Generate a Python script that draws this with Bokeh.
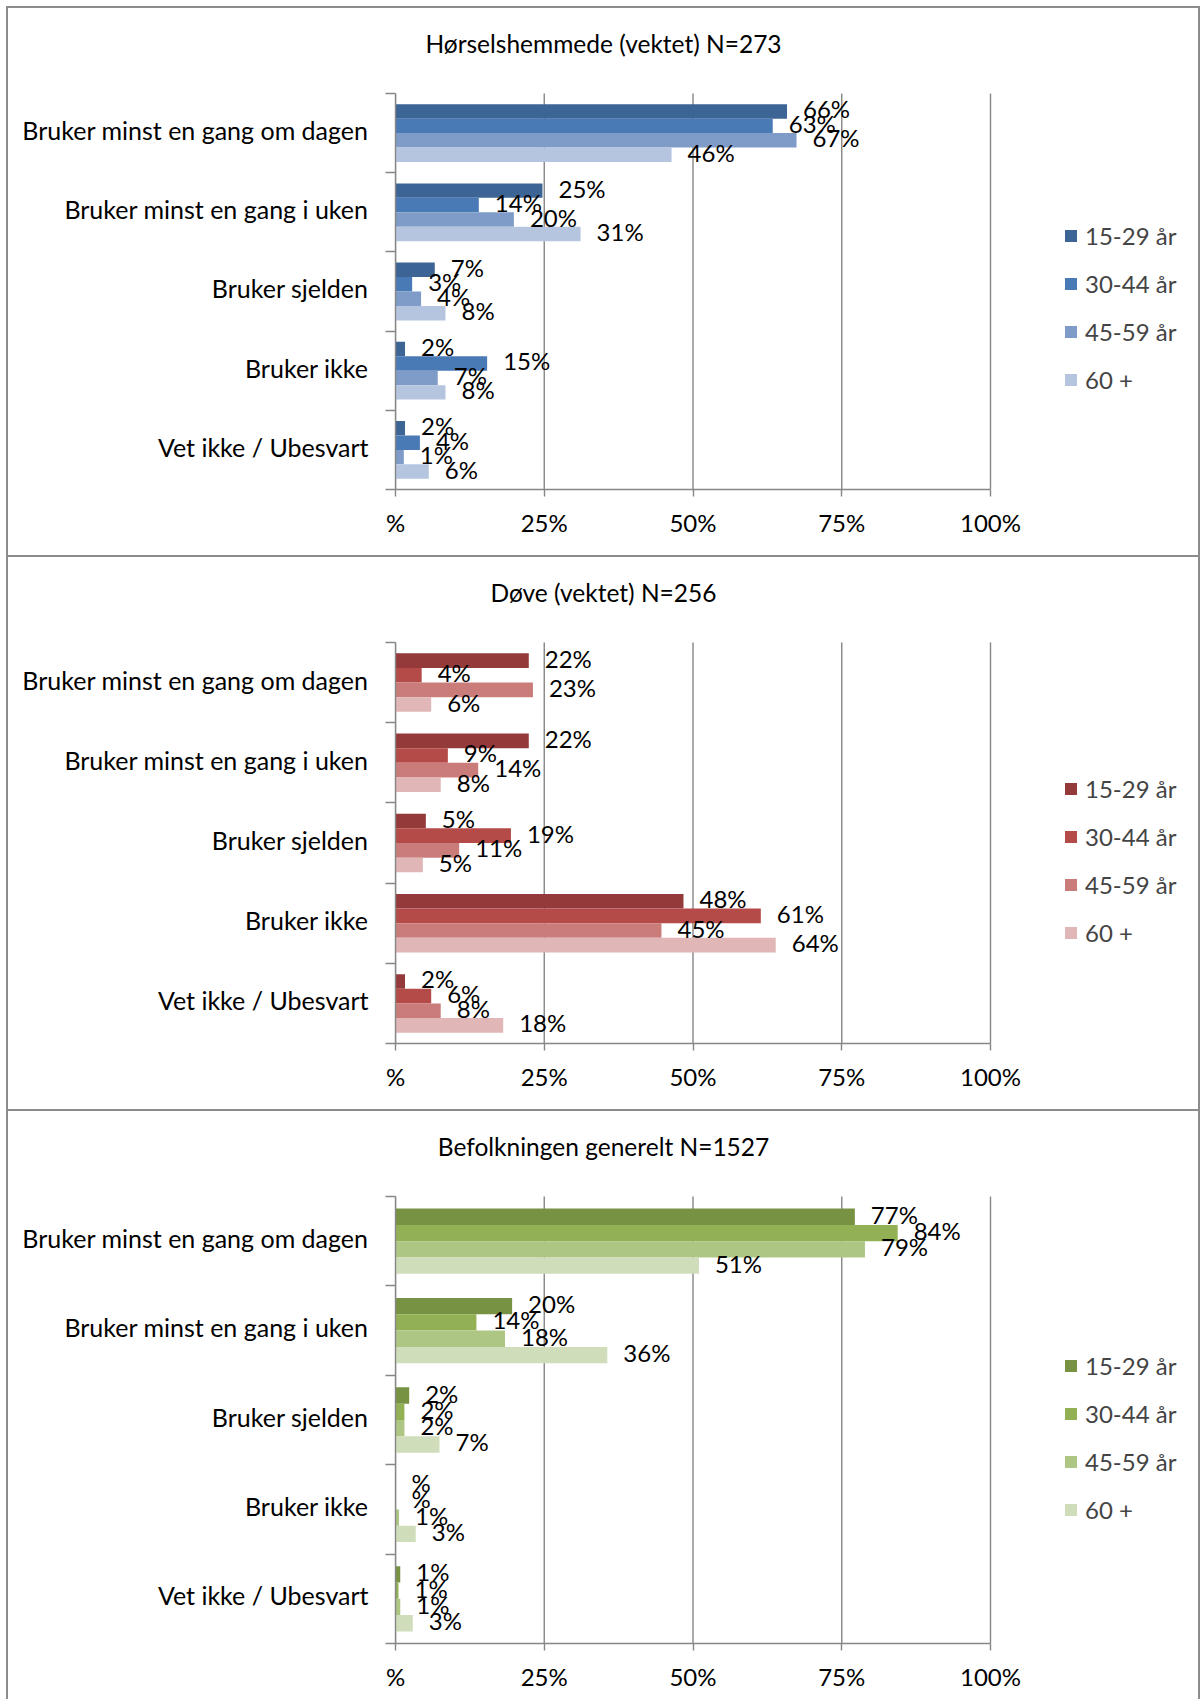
from bokeh.plotting import figure
from bokeh.models import ColumnDataSource, Range1d, FixedTicker, Legend, LegendItem, Div, Label
from bokeh.layouts import column, row
from bokeh.embed import file_html
from bokeh.resources import INLINE
from bokeh.core.properties import value
from bokeh.transform import dodge

# ---------------- data ----------------
categories = ["Bruker minst en gang om dagen", "Bruker minst en gang i uken",
              "Bruker sjelden", "Bruker ikke", "Vet ikke / Ubesvart"]
age_groups = ["15-29 år", "30-44 år", "45-59 år", "60 +"]
x_ticks = [0, 25, 50, 75, 100]
x_tick_labels = ["%", "25%", "50%", "75%", "100%"]

titles = ["Hørselshemmede (vektet) N=273", "Døve (vektet) N=256", "Befolkningen generelt N=1527"]

# Hørselshemmede (percent, per category)
horsel_15_29 = [65.8, 24.7, 6.6, 1.6, 1.6]
horsel_30_44 = [63.4, 14.0, 2.8, 15.4, 4.1]
horsel_45_59 = [67.4, 19.9, 4.3, 7.1, 1.4]
horsel_60 = [46.4, 31.1, 8.4, 8.4, 5.6]

# Døve
dove_15_29 = [22.4, 22.4, 5.1, 48.4, 1.6]
dove_30_44 = [4.4, 8.8, 19.4, 61.4, 6.0]
dove_45_59 = [23.1, 13.9, 10.7, 44.7, 7.6]
dove_60 = [6.0, 7.6, 4.6, 63.9, 18.1]

# Befolkningen generelt
bef_15_29 = [77.2, 19.6, 2.3, 0.0, 0.8]
bef_30_44 = [84.4, 13.6, 1.5, 0.0, 0.5]
bef_45_59 = [78.9, 18.4, 1.5, 0.6, 0.8]
bef_60 = [51.0, 35.6, 7.4, 3.4, 2.9]

blue = ["#3C6495", "#4A7AB5", "#7F9CC9", "#B5C5E0"]
red = ["#953A3A", "#B44B48", "#CA7C7B", "#E0B6B6"]
green = ["#789243", "#92B154", "#ADC683", "#CFDDBB"]

FONT = "Lato"
GREY = "#868686"
BORDER = "#8c8c8c"
FS = "24px"
CAT_FS = "25px"
TITLE_FS = "24.5px"
INNER_W = 1190
LEFT = 387          # space for category labels (px)
SCALE_W = 595       # pixel width of 0..100 %
TOP = 85            # px from figure top to first category
LABEL_NUDGE = 0.038  # small upward nudge of category labels (category units)


def pct_label(v):
    n = int(v + 0.5)
    return "%" if n == 0 else f"{n}%"


def make_panel(title, series, colors, height, bottom, legend_y):
    frame_w = INNER_W - LEFT
    frame_h = height - bottom
    n = len(categories)
    x_end = 100 * frame_w / SCALE_W
    y_top = -n * TOP / (frame_h - TOP)
    p = figure(width=INNER_W, height=height, x_range=Range1d(0, x_end), y_range=Range1d(n, y_top),
               output_backend="svg", toolbar_location=None,
               min_border_left=LEFT, min_border_right=0,
               min_border_top=0, min_border_bottom=bottom)
    p.outline_line_color = None
    p.background_fill_color = "white"
    p.border_fill_color = "white"
    p.xgrid.grid_line_color = None
    p.ygrid.grid_line_color = None

    # vertical gridlines over the category area
    p.segment(x0=x_ticks, x1=x_ticks, y0=[0] * len(x_ticks), y1=[n] * len(x_ticks),
              line_color=GREY, line_width=1.4)

    ypos = [i + 0.5 for i in range(n)]
    group = 0.73
    bar_h = group / len(series)

    renderers = []
    sources = []
    for j, (vals, col) in enumerate(zip(series, colors)):
        src = ColumnDataSource(dict(y=ypos, v=vals, lab=[pct_label(v) for v in vals]))
        off = (j - (len(series) - 1) / 2) * bar_h
        r = p.hbar(y=dodge("y", off), left=0, right="v", height=bar_h, source=src,
                   fill_color=col, line_color=None)
        renderers.append(r)
        sources.append((src, off))
    for src, off in sources:
        p.text(x="v", y=dodge("y", off), text="lab", source=src, x_offset=16, y_offset=-2.5,
               text_align="left", text_baseline="middle",
               text_font=value(FONT), text_font_size=FS, text_color="black")

    # x axis
    xa = p.xaxis[0]
    xa.bounds = (x_ticks[0], x_ticks[-1])
    xa.ticker = FixedTicker(ticks=x_ticks, minor_ticks=[])
    xa.major_label_overrides = dict(zip(x_ticks, x_tick_labels))
    xa.axis_line_color = GREY
    xa.axis_line_width = 1.4
    xa.major_tick_line_color = GREY
    xa.major_tick_line_width = 1.4
    xa.major_tick_out = 7
    xa.major_tick_in = 0
    xa.minor_tick_line_color = None
    xa.major_label_standoff = 11
    xa.major_label_text_font = FONT
    xa.major_label_text_font_size = FS
    xa.major_label_text_color = "black"

    # y axis (category axis, ticks at category boundaries)
    ya = p.yaxis[0]
    ya.bounds = (0, n)
    label_pos = [y - LABEL_NUDGE for y in ypos]
    ya.ticker = FixedTicker(ticks=label_pos, minor_ticks=list(range(n + 1)))
    ya.major_label_overrides = dict(zip(label_pos, categories))
    ya.axis_line_color = GREY
    ya.axis_line_width = 1.4
    ya.major_tick_out = 0
    ya.major_tick_in = 0
    ya.major_tick_line_color = None
    ya.minor_tick_out = 10
    ya.minor_tick_in = 0
    ya.minor_tick_line_color = GREY
    ya.minor_tick_line_width = 1.4
    ya.major_label_standoff = 17
    ya.major_label_text_font = FONT
    ya.major_label_text_font_size = CAT_FS
    ya.major_label_text_color = "black"

    # chart title, centred on the chart area
    p.add_layout(Label(x=INNER_W / 2 - LEFT, y=frame_h - 35, x_units="screen", y_units="screen",
                       text=title, text_align="center", text_baseline="middle",
                       text_font=FONT, text_font_size=TITLE_FS, text_color="black"))

    legend = Legend(items=[LegendItem(label=a, renderers=[r]) for a, r in zip(age_groups, renderers)],
                    location=(668, legend_y), orientation="vertical",
                    glyph_width=15, glyph_height=15, label_standoff=7,
                    label_height=24, spacing=19, padding=0, margin=0,
                    border_line_color=None, background_fill_alpha=0,
                    label_text_font=FONT, label_text_font_size=FS)
    p.add_layout(legend)
    return p


p1 = make_panel(titles[0], [horsel_15_29, horsel_30_44, horsel_45_59, horsel_60], blue,
                547, 66, 95.5)
p2 = make_panel(titles[1], [dove_15_29, dove_30_44, dove_45_59, dove_60], red,
                552, 66, 96.5)
p3 = make_panel(titles[2], [bef_15_29, bef_30_44, bef_45_59, bef_60], green,
                588, 56, 119.5)


def hline(w):
    return Div(width=w, height=2, margin=0, styles={"background-color": BORDER, "overflow": "hidden"})


def vline(h, color=BORDER, w=2):
    return Div(width=w, height=h, margin=0, styles={"background-color": color, "overflow": "hidden"})


inner = column(hline(INNER_W), p1, hline(INNER_W), p2, hline(INNER_W), p3, spacing=0)
H = 2 + 547 + 2 + 552 + 2 + 588
body = row(vline(H, "white", 6), vline(H), inner, vline(H), spacing=0)
layout = column(Div(width=1200, height=6, margin=0), body, spacing=0)

with open("out.html", "w") as f:
    f.write(file_html(layout, INLINE))
